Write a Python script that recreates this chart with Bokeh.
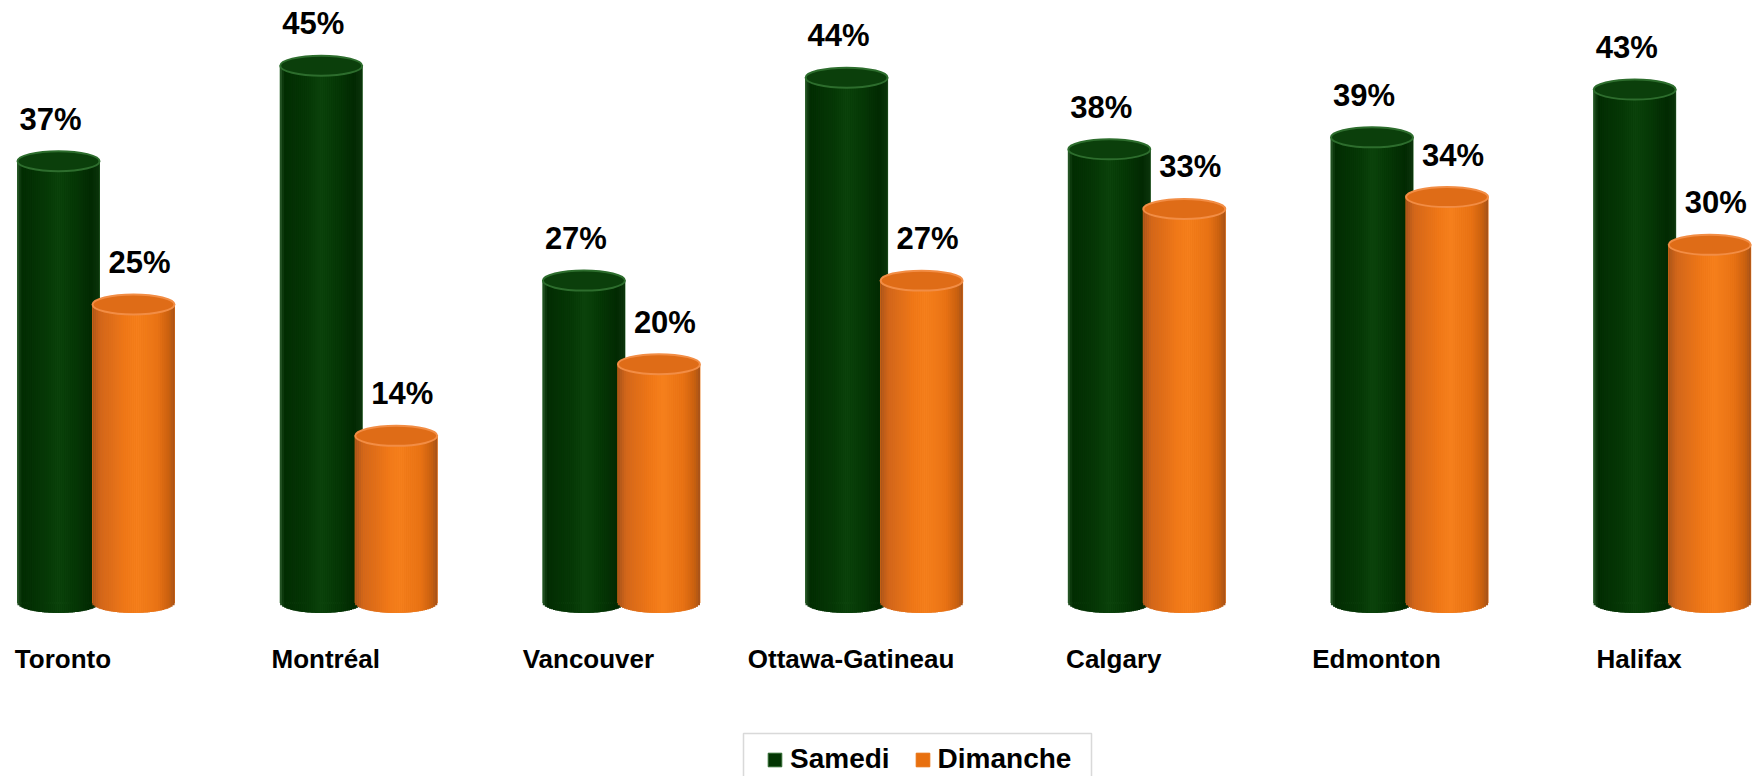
import numpy as np
from bokeh.plotting import figure
from bokeh.models import ColumnDataSource, Legend, LegendItem, BoxAnnotation, Range1d
from bokeh.core.properties import value
from bokeh.embed import file_html
from bokeh.resources import INLINE

# ---------------- data ----------------
cities = ["Toronto", "Montréal", "Vancouver", "Ottawa-Gatineau", "Calgary", "Edmonton", "Halifax"]
samedi = [37, 45, 27, 44, 38, 39, 43]
dimanche = [25, 14, 20, 27, 33, 34, 30]
series_names = ["Samedi", "Dimanche"]

# ---------------- layout constants ----------------
W, H = 1760, 776
PX_X = 262.7          # pixels per category
PX_Y = 11.94          # pixels per percent
X0 = -95.5 / PX_X
Y1 = 602.5 / PX_Y
BAR_W = 82 / PX_X
OFF = 37.5 / PX_X
ELL_H = 20 / PX_Y
N_STRIPS = 40
FONT = "Liberation Sans"
LABEL_GAP = 42 / PX_Y
CAT_Y = -56 / PX_Y

p = figure(width=W, height=H, output_backend="svg", toolbar_location=None,
           x_range=Range1d(X0, X0 + W / PX_X), y_range=Range1d(Y1 - H / PX_Y, Y1),
           min_border=0, min_border_left=0, min_border_right=0,
           min_border_top=0, min_border_bottom=0)
p.xaxis.visible = False
p.yaxis.visible = False
p.xgrid.visible = False
p.ygrid.visible = False
p.outline_line_color = None
p.background_fill_color = "white"
p.border_fill_color = "white"


def interp_colors(stops, n):
    ts = np.array([s[0] for s in stops])
    rgb = np.array([[int(s[1][i:i + 2], 16) for i in (1, 3, 5)] for s in stops], dtype=float)
    out = []
    for k in range(n):
        t = (k + 0.5) / n
        c = [np.interp(t, ts, rgb[:, j]) for j in range(3)]
        out.append("#%02x%02x%02x" % tuple(int(round(v)) for v in c))
    return out


styles = {
    "Samedi": dict(
        stops=[(0.0, "#2a5a2a"), (0.05, "#022c02"), (0.35, "#063806"), (0.5, "#0b430b"),
               (0.68, "#063906"), (0.9, "#022902"), (1.0, "#0c340c")],
        body="#033503", body_line="#2f6a2f", base="#043304", top_fill="#0b3f0b", top_line="#2d6d2d",
        off=-OFF, lab_dx=-8 / PX_X),
    "Dimanche": dict(
        stops=[(0.0, "#a9541a"), (0.1, "#d2661a"), (0.4, "#f07818"), (0.55, "#f6801c"),
               (0.8, "#e87214"), (0.93, "#c9600f"), (1.0, "#a5521a")],
        body="#e8700f", body_line="#e8700f", base="#e26e14", top_fill="#df6c17", top_line="#f28d45",
        off=OFF, lab_dx=6 / PX_X),
}

legend_renderers = {}
for name, vals in zip(series_names, [samedi, dimanche]):
    st = styles[name]
    xs = np.arange(len(cities)) + st["off"]
    vals_arr = np.array(vals, dtype=float)
    src = ColumnDataSource(dict(x=xs, top=vals_arr, zero=np.zeros(len(vals)),
                                label=[f"{v}%" for v in vals],
                                lx=xs + st["lab_dx"], ly=vals_arr + LABEL_GAP))
    # bottom face
    p.ellipse(x="x", y="zero", width=BAR_W * 0.98, height=ELL_H, source=src,
              fill_color=st["base"], line_color=None)
    body = p.vbar(x="x", top="top", bottom=0, width=BAR_W, source=src,
                  fill_color=st["body"], line_color=st["body_line"], line_width=1)
    legend_renderers[name] = body
    # shaded strips with curved bottoms (cylinder look)
    cols = interp_colors(st["stops"], N_STRIPS)
    sw = BAR_W / N_STRIPS
    sx, stop, sbot, scol = [], [], [], []
    for xc, v in zip(xs, vals_arr):
        for k in range(N_STRIPS):
            u = ((k + 0.5) * sw - BAR_W / 2) / (BAR_W / 2)
            sx.append(xc - BAR_W / 2 + (k + 0.5) * sw)
            stop.append(v)
            sbot.append(-(ELL_H / 2) * np.sqrt(max(0.0, 1 - u * u)))
            scol.append(cols[k])
    p.vbar(x=sx, top=stop, bottom=sbot, width=sw * 1.08, fill_color=scol, line_color=None)
    # top face
    p.ellipse(x="x", y="top", width=BAR_W, height=ELL_H, source=src,
              fill_color=st["top_fill"], line_color=st["top_line"], line_width=2)
    # value labels
    p.text(x="lx", y="ly", text="label", source=src, text_align="center",
           text_baseline="alphabetic", text_font=value(FONT), text_font_style="bold",
           text_font_size="31px", text_color="black")

# category labels
cat_src = ColumnDataSource(dict(x=np.arange(len(cities)) - 33 / PX_X,
                                y=np.full(len(cities), CAT_Y), t=cities))
p.text(x="x", y="y", text="t", source=cat_src, text_align="center",
       text_baseline="alphabetic", text_font=value(FONT), text_font_style="bold",
       text_font_size="26px", text_color="black")

# legend
box = BoxAnnotation(left=743, right=1091, top=733, bottom=782,
                    left_units="canvas", right_units="canvas",
                    top_units="canvas", bottom_units="canvas",
                    fill_alpha=0, line_color="#808080", line_width=1.5)
p.add_layout(box)

legend = Legend(items=[LegendItem(label=n, renderers=[legend_renderers[n]]) for n in series_names],
                orientation="horizontal", location=(766, 1), padding=0, margin=0,
                spacing=24, label_standoff=7, glyph_width=17, glyph_height=17,
                label_text_font=FONT, label_text_font_style="bold", label_text_font_size="28px",
                label_text_color="black",
                border_line_alpha=0, background_fill_alpha=0)
p.add_layout(legend, "center")

open("out.html", "w").write(file_html(p, INLINE))
